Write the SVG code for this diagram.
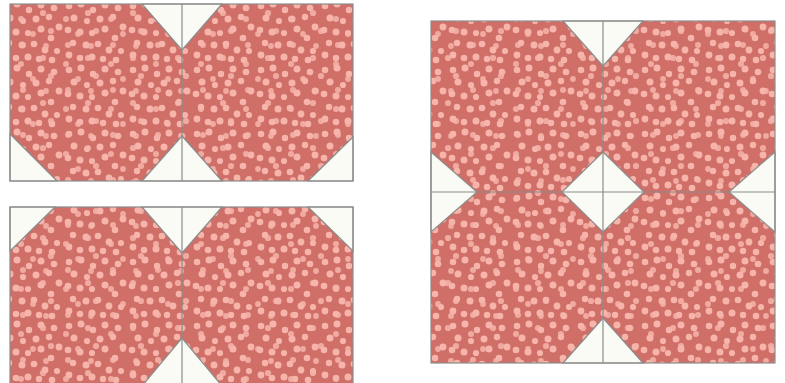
<svg xmlns="http://www.w3.org/2000/svg" width="785" height="383" viewBox="0 0 785 383">
<defs>
<pattern id="dotsA" width="64" height="64" patternUnits="userSpaceOnUse">
<rect width="64" height="64" fill="#cf6f68"/>
<g fill="#f6b4ab">
<circle cx="5" cy="6" r="3.3"/><circle cx="17" cy="4" r="3.5"/><circle cx="29" cy="10" r="3.2"/><circle cx="41" cy="5" r="3.5"/><circle cx="54" cy="8" r="3.3"/>
<circle cx="10" cy="18" r="3.5"/><circle cx="23" cy="21" r="3.1"/><circle cx="36" cy="19" r="3.5"/><circle cx="49" cy="17" r="3.2"/><circle cx="59" cy="27" r="3.4"/>
<circle cx="4" cy="30" r="3.3"/><circle cx="16" cy="32" r="3.5"/><circle cx="28" cy="33" r="3.1"/><circle cx="41" cy="29" r="3.5"/><circle cx="51" cy="38" r="3.3"/>
<circle cx="9" cy="43" r="3.2"/><circle cx="22" cy="45" r="3.5"/><circle cx="34" cy="44" r="3.3"/><circle cx="45" cy="50" r="3.4"/><circle cx="57" cy="51" r="3.1"/>
<circle cx="5" cy="55" r="3.4"/><circle cx="16" cy="58" r="3.3"/><circle cx="28" cy="57" r="3.5"/><circle cx="39" cy="59" r="3.2"/><circle cx="52" cy="60" r="3.3"/>
</g>
</pattern>
<pattern id="dotsB" width="45" height="45" patternUnits="userSpaceOnUse" x="13" y="7">
<g fill="#f6b4ab" opacity="0.85">
<circle cx="8" cy="12" r="3"/><circle cx="30" cy="6" r="3.1"/><circle cx="20" cy="27" r="2.9"/><circle cx="38" cy="24" r="3.1"/><circle cx="10" cy="38" r="3"/><circle cx="33" cy="39" r="2.9"/>
</g>
</pattern>
<style>
.w{fill:#fbfbf6;stroke:#8c8c8c;stroke-width:1.2;stroke-linejoin:miter}
.seam{stroke:#8c8c8c;stroke-width:1.2;fill:none}
</style>
</defs>
<rect width="785" height="383" fill="#ffffff"/>

<g id="block-top-left">
<rect x="10" y="4" width="343" height="177" fill="url(#dotsA)"/>
<rect x="10" y="4" width="343" height="177" fill="url(#dotsB)"/>
<polygon class="w" points="142,4 222,4 182,50"/>
<polygon class="w" points="142,181 222,181 182,136"/>
<polygon class="w" points="10,134 10,181 57,181"/>
<polygon class="w" points="353,137 353,181 308,181"/>
<line class="seam" x1="182" y1="4" x2="182" y2="181"/>
<rect class="seam" x="10" y="4" width="343" height="177"/>
</g>

<g id="block-bottom-left">
<rect x="10" y="207" width="343" height="180" fill="url(#dotsA)"/>
<rect x="10" y="207" width="343" height="180" fill="url(#dotsB)"/>
<polygon class="w" points="142,207 222,207 182,253"/>
<polygon class="w" points="10,207 55,207 10,251"/>
<polygon class="w" points="353,207 308,207 353,251"/>
<polygon class="w" points="142,386 222,386 182,338"/>
<line class="seam" x1="182" y1="207" x2="182" y2="386"/>
<rect class="seam" x="10" y="207" width="343" height="180"/>
</g>

<g id="block-right">
<rect x="431" y="21" width="344" height="342" fill="url(#dotsA)"/>
<rect x="431" y="21" width="344" height="342" fill="url(#dotsB)"/>
<polygon class="w" points="563,21 643,21 603,66"/>
<polygon class="w" points="563,363 643,363 603,318"/>
<polygon class="w" points="431,152 431,232 477,192"/>
<polygon class="w" points="775,152 775,232 729,192"/>
<polygon class="w" points="603,152 644,192 603,232 562,192"/>
<g id="connectors">
<line class="seam" x1="603" y1="21" x2="603" y2="363"/>
<line class="seam" x1="431" y1="192" x2="775" y2="192"/>
</g>
<rect class="seam" x="431" y="21" width="344" height="342"/>
</g>
</svg>
